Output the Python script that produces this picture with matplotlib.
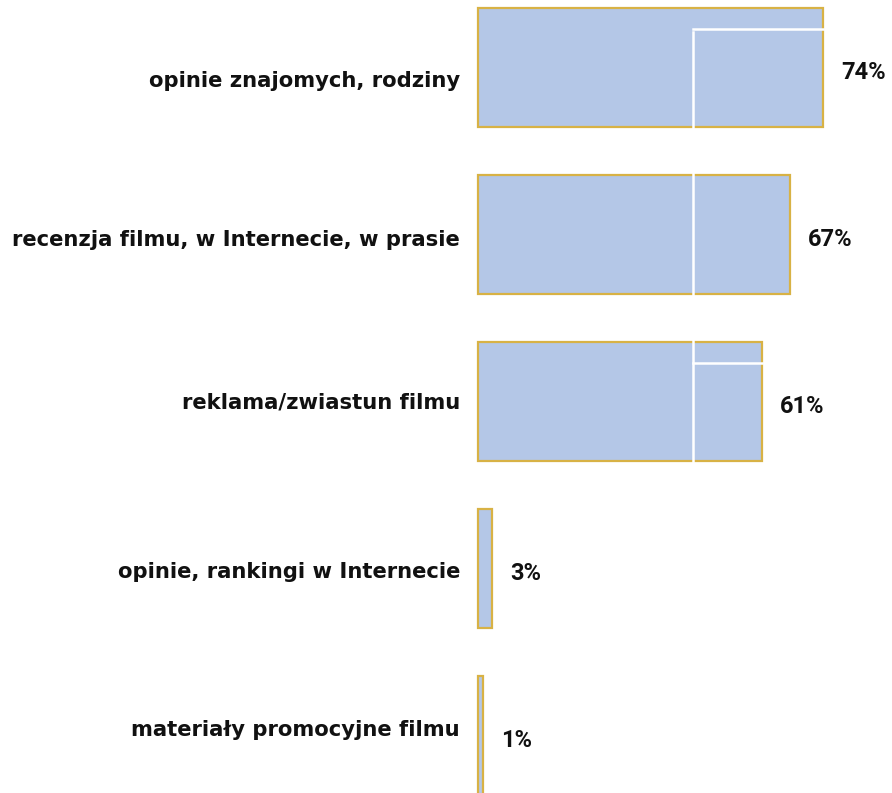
import matplotlib
matplotlib.use("Agg")
from matplotlib import pyplot as plt

categories = [
    "opinie znajomych, rodziny",
    "recenzja filmu, w Internecie, w prasie",
    "reklama/zwiastun filmu",
    "opinie, rankingi w Internecie",
    "materiały promocyjne filmu",
]
values = [74, 67, 61, 3, 1]
value_labels = ["74%", "67%", "61%", "3%", "1%"]

# baseline shifts (points) of the category texts, as in the original layout
cat_nudge = [-14, -8.6, -5.4, -6.8, 0]

fig = plt.figure(figsize=(8.92, 7.93), dpi=100)
ax = fig.add_axes([0, 0, 1, 1])

ypos = list(range(len(categories)))
ax.barh(ypos, values, height=0.71, color="#b4c7e7", edgecolor="#d8b245", linewidth=1.6)

# white guide lines that sit on top of the bars
ax.plot([46.2, 46.2], [-0.21, 2.36], color="white", lw=1.8, zorder=3)
ax.plot([46.2, values[0]], [-0.23, -0.23], color="white", lw=1.8, zorder=3)
ax.plot([46.2, values[2]], [1.77, 1.77], color="white", lw=1.8, zorder=3)

for i in ypos:
    ax.annotate(categories[i], (0, i), xytext=(-13, cat_nudge[i]), textcoords="offset points",
                ha="right", va="baseline", fontsize=15.2, fontweight="bold",
                family=["DejaVu Sans"], color="#111111")
    ax.annotate(value_labels[i], (values[i], i), xytext=(13, -8.5), textcoords="offset points",
                ha="left", va="baseline", fontsize=17, fontweight="bold",
                family=["Roboto", "DejaVu Sans"], color="#111111")

ax.set_xlim(-478 / 4.66, (892 - 478) / 4.66)
ax.set_ylim((793 - 67.5) / 167, -67.5 / 167)
ax.axis("off")

fig.savefig("out.png", dpi=100)
